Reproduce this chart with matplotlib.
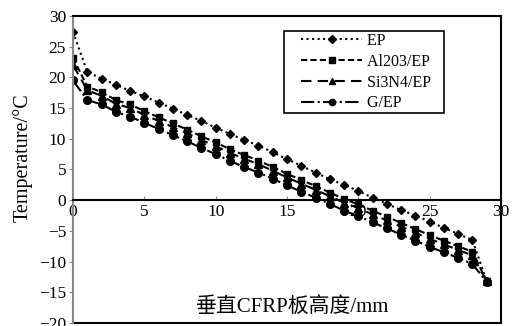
import matplotlib
matplotlib.use("Agg")
import matplotlib.pyplot as plt
from matplotlib.lines import Line2D
from matplotlib.legend_handler import HandlerLine2D

# height positions along the CFRP plate (mm)
height_mm = list(range(0, 29)) + [29]

temp_ep = [27.4, 20.9, 19.8, 18.8, 17.8, 16.9, 15.9, 14.9, 13.9, 12.9,
           11.8, 10.8, 9.8, 8.9, 7.8, 6.7, 5.6, 4.5, 3.4, 2.5,
           1.5, 0.4, -0.6, -1.6, -2.5, -3.5, -4.5, -5.5, -6.5, -13.2]
temp_al2o3 = [23.2, 18.5, 17.6, 16.3, 15.6, 14.5, 13.5, 12.5, 11.5, 10.4,
              9.4, 8.3, 7.35, 6.45, 5.4, 4.3, 3.3, 2.3, 1.25, 0.2,
              -0.7, -1.7, -2.7, -3.7, -4.7, -5.7, -6.6, -7.5, -8.4, -13.2]
temp_si3n4 = [22.0, 17.9, 17.0, 15.7, 15.0, 13.9, 12.9, 11.9, 10.9, 9.8,
              8.8, 7.7, 6.75, 5.85, 4.8, 3.7, 2.7, 1.7, 0.65, -0.4,
              -1.3, -2.3, -3.3, -4.3, -5.3, -6.3, -7.2, -8.1, -9.0, -13.2]
temp_g = [19.5, 16.3, 15.6, 14.4, 13.6, 12.6, 11.6, 10.6, 9.6, 8.5,
          7.5, 6.4, 5.4, 4.5, 3.5, 2.4, 1.4, 0.4, -0.6, -1.7,
          -2.6, -3.6, -4.6, -5.6, -6.6, -7.6, -8.5, -9.4, -10.4, -13.3]

labels = ["EP", "Al203/EP", "Si3N4/EP", "G/EP"]
x_ticks = [0, 5, 10, 15, 20, 25, 30]
y_ticks = [-20, -15, -10, -5, 0, 5, 10, 15, 20, 25, 30]

SERIF = ["Liberation Serif", "Noto Sans CJK SC"]
plt.rcParams["font.family"] = SERIF

fig = plt.figure(figsize=(5.19, 3.26), dpi=100)
ax = fig.add_axes([0.1407, 0.0092, 0.8246, 0.9418])

styles = [
    dict(linestyle=":", marker="D", markersize=4.5),
    dict(linestyle=(0, (3, 1.5)), marker="s", markersize=4.5),
    dict(linestyle=(0, (5, 3)), marker="^", markersize=5.5),
    dict(linestyle="-.", marker="o", markersize=5.5),
]
series = [temp_ep, temp_al2o3, temp_si3n4, temp_g]
for vals, lab, st in zip(series, labels, styles):
    ax.plot(height_mm, vals, color="black", linewidth=1.5, label=lab,
            markerfacecolor="black", markeredgecolor="black", **st)

ax.set_xlim(0, 30)
ax.set_ylim(-20, 30)
ax.set_xticks(x_ticks)
ax.set_yticks(y_ticks)

# x axis runs through y=0, frame closed at the bottom by a separate line
ax.spines["bottom"].set_position(("data", 0))
for side in ["bottom", "top", "right", "left"]:
    ax.spines[side].set_linewidth(1.5)
ax.spines["left"].set_color("#888888")
ax.add_line(Line2D([0, 1], [0, 0], transform=ax.transAxes, color="black",
                   linewidth=1.5, clip_on=False))

ax.tick_params(axis="x", direction="in", length=3, width=0.8, color="#888888",
               labelsize=12.5, pad=3)
ax.tick_params(axis="y", direction="out", length=3, width=0.8, color="#888888",
               labelsize=12.5, pad=2)

ax.set_ylabel("Temperature/°C", fontsize=14.5)
ax.yaxis.set_label_coords(-0.094, 0.54)
ax.set_xlabel("垂直CFRP板高度/mm", fontsize=15, family=SERIF)
ax.xaxis.set_label_coords(0.512, 0.085)

handles, labs = ax.get_legend_handles_labels()
leg = ax.legend(handles, [l + "   " for l in labs],
                loc="upper right", bbox_to_anchor=(0.866, 0.95), fontsize=11.5,
                numpoints=1, handlelength=4.8, handletextpad=0.3,
                labelspacing=0.3, borderpad=0.1, borderaxespad=0,
                fancybox=False, framealpha=1, edgecolor="black",
                handler_map={Line2D: HandlerLine2D(xpad=1.0)})
leg.get_frame().set_linewidth(1.2)
for h in leg.legend_handles:
    h.set_markersize(4.5)

fig.savefig("out.png", dpi=100)
